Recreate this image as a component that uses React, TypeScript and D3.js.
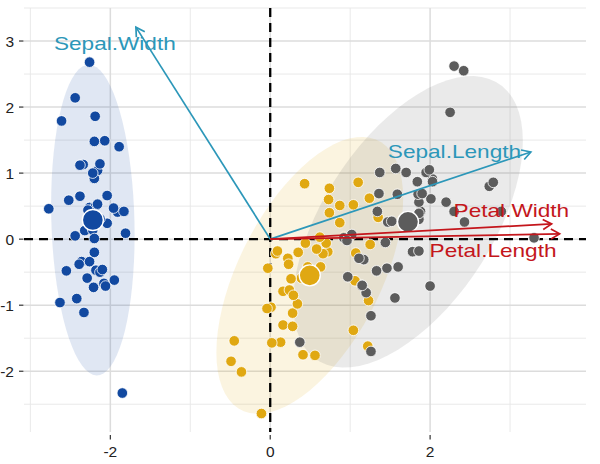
import React from "react";
import * as d3 from "d3";

// PCA scores (Dim1, Dim2) read for each species
const setosaX = [-2.26,-2.08,-2.36,-2.29,-2.38,-2.07,-2.44,-2.23,-2.33,-2.18,-2.16,-2.32,-2.21,-2.63,-2.19,-2.26,-2.20,-2.19,-1.89,-2.34,-1.91,-2.20,-2.77,-1.81,-2.22,-1.95,-2.04,-2.16,-2.13,-2.26,-2.13,-1.83,-2.61,-2.44,-2.10,-2.20,-2.04,-2.52,-2.42,-2.16,-2.28,-1.85,-2.55,-1.96,-2.13,-2.06,-2.38,-2.39,-2.22,-2.20];
const setosaY = [0.48,-0.67,-0.34,-0.59,0.65,1.49,0.05,0.22,-1.11,-0.47,1.04,0.13,-0.73,-0.96,1.86,2.68,1.48,0.49,1.40,1.13,0.41,0.92,0.46,0.09,0.14,-0.62,0.24,0.53,0.31,-0.34,-0.50,0.42,1.79,2.14,-0.46,-0.20,0.66,0.59,-0.90,0.27,0.44,-2.33,-0.48,0.47,1.14,-0.71,1.12,-0.38,1.00,0.01];
const versicolorX = [1.10,0.73,1.24,0.41,1.07,0.39,0.74,-0.49,0.92,0.01,-0.11,0.44,0.56,0.72,-0.03,0.87,0.35,0.16,1.22,0.16,0.74,0.47,1.23,0.63,0.70,0.87,1.25,1.35,0.66,-0.04,0.13,0.02,0.24,1.06,0.22,0.43,1.04,1.04,0.07,0.28,0.28,0.62,0.34,-0.36,0.29,0.09,0.23,0.58,-0.45,0.26];
const versicolorY = [0.86,0.60,0.62,-1.75,-0.21,-0.59,0.77,-1.85,0.03,-1.03,-2.64,-0.06,-1.76,-0.19,-0.44,0.51,-0.20,-0.79,-1.62,-1.30,0.40,-0.42,-0.93,-0.42,-0.06,0.25,-0.08,0.33,-0.22,-1.05,-1.56,-1.57,-0.77,-0.63,-0.29,0.84,0.52,-1.38,-0.22,-1.32,-1.12,0.03,-0.98,-2.01,-0.85,-0.18,-0.38,-0.15,-1.54,-0.60];
const virginicaX = [1.84,1.15,2.20,1.44,1.86,2.74,0.37,2.30,2.00,2.25,1.36,1.60,1.88,1.26,1.46,1.59,1.47,2.42,3.30,1.26,2.03,0.97,2.89,1.33,1.70,1.95,1.17,1.02,1.78,1.86,2.43,2.30,1.86,1.11,1.20,2.79,1.57,1.34,0.92,1.85,2.01,1.90,1.15,2.03,1.99,1.86,1.56,1.52,1.37,0.96];
const virginicaY = [0.87,-0.70,0.56,-0.05,0.30,0.80,-1.56,0.42,-0.71,1.92,0.69,-0.42,0.42,-1.16,-0.44,0.68,0.26,2.55,0.02,-1.70,0.91,-0.57,0.42,-0.48,1.01,1.01,-0.31,0.07,-0.19,0.56,0.26,2.62,-0.18,-0.29,-0.81,0.86,1.07,0.42,0.02,0.68,0.61,0.69,-0.70,0.87,1.05,0.39,-0.89,0.27,1.01,-0.02];

const speciesNames = ["setosa", "versicolor", "virginica"];

// Variable arrows (scaled coordinates)
const varNames = ["Sepal.Length", "Sepal.Width", "Petal.Length", "Petal.Width"];
const varX = [3.26, -1.68, 3.62, 3.52];
const varY = [1.32, 3.21, 0.08, 0.23];
const varGroup = ["sepal", "sepal", "petal", "petal"];

const xTicks = [-2, 0, 2];
const yTicks = [-2, -1, 0, 1, 2, 3];
const xMinor = [-3, -1, 1, 3];
const yMinor = [-2.5, -1.5, -0.5, 0.5, 1.5, 2.5, 3.5];

// styles
const speciesColors: Record<string, string> = {
  setosa: "#1249A0",
  versicolor: "#E0A812",
  virginica: "#5C5C5C",
};
const groupColors: Record<string, string> = { sepal: "#2C97B9", petal: "#C4161C" };
const labelOffsets = [
  [-143, 6],
  [-82, 23],
  [-130, 23],
  [-98, -7],
];

const W = 600;
const H = 464;
const L = 24, R = 586, T = 8, B = 432;
const x = d3.scaleLinear().domain([-3.08, 3.95]).range([L, R]);
const y = d3.scaleLinear().domain([-2.92, 3.5]).range([B, T]);

const groups = [
  { name: speciesNames[0], xs: setosaX, ys: setosaY },
  { name: speciesNames[1], xs: versicolorX, ys: versicolorY },
  { name: speciesNames[2], xs: virginicaX, ys: virginicaY },
];

function ellipsePath(xs: number[], ys: number[], level = 0.95) {
  const n = xs.length;
  const mx = d3.mean(xs)!;
  const my = d3.mean(ys)!;
  let sxx = 0, syy = 0, sxy = 0;
  for (let i = 0; i < n; i++) {
    sxx += (xs[i] - mx) ** 2;
    syy += (ys[i] - my) ** 2;
    sxy += (xs[i] - mx) * (ys[i] - my);
  }
  sxx /= n - 1; syy /= n - 1; sxy /= n - 1;
  const r11 = Math.sqrt(sxx);
  const r12 = sxy / r11;
  const r22 = Math.sqrt(syy - r12 * r12);
  const d = n - 1;
  const qf = (d / 2) * (Math.pow(1 - level, -2 / d) - 1);
  const radius = Math.sqrt(2 * qf);
  const pts: [number, number][] = [];
  const seg = 72;
  for (let k = 0; k < seg; k++) {
    const t = (k / seg) * 2 * Math.PI;
    const c = Math.cos(t), s = Math.sin(t);
    pts.push([x(mx + radius * c * r11), y(my + radius * (c * r12 + s * r22))]);
  }
  return d3.line().curve(d3.curveLinearClosed)(pts) || "";
}

function arrowHead(x0: number, y0: number, x1: number, y1: number, len = 10) {
  const a = Math.atan2(y1 - y0, x1 - x0);
  const da = (30 * Math.PI) / 180;
  const p1 = [x1 - len * Math.cos(a - da), y1 - len * Math.sin(a - da)];
  const p2 = [x1 - len * Math.cos(a + da), y1 - len * Math.sin(a + da)];
  return `M${p1[0]},${p1[1]}L${x1},${y1}L${p2[0]},${p2[1]}`;
}

export default function App() {
  const font = "'Liberation Sans', Arial, Helvetica, sans-serif";
  return (
    <svg width={W} height={H} style={{ position: "absolute", left: 0, top: 0, background: "#fff" }}>
      {/* grid */}
      {xMinor.map((v) => (
        <line key={"xm" + v} x1={x(v)} x2={x(v)} y1={T} y2={B} stroke="#E6E6E6" strokeWidth={0.9} />
      ))}
      {yMinor.map((v) => (
        <line key={"ym" + v} x1={L} x2={R} y1={y(v)} y2={y(v)} stroke="#E6E6E6" strokeWidth={0.9} />
      ))}
      {xTicks.map((v) => (
        <line key={"xg" + v} x1={x(v)} x2={x(v)} y1={T} y2={B} stroke="#DCDCDC" strokeWidth={1.5} />
      ))}
      {yTicks.map((v) => (
        <line key={"yg" + v} x1={L} x2={R} y1={y(v)} y2={y(v)} stroke="#DCDCDC" strokeWidth={1.5} />
      ))}

      {/* ellipses */}
      {groups.map((g) => (
        <path key={"el" + g.name} d={ellipsePath(g.xs, g.ys)} fill={speciesColors[g.name]} fillOpacity={0.13} stroke="none" />
      ))}

      {/* reference lines */}
      <line x1={L} x2={R} y1={y(0)} y2={y(0)} stroke="#000" strokeWidth={2.3} strokeDasharray="9,6" />
      <line x1={x(0)} x2={x(0)} y1={T} y2={B} stroke="#000" strokeWidth={2.3} strokeDasharray="9,6" />

      {/* points */}
      {groups.map((g) =>
        g.xs.map((vx, i) => (
          <circle key={g.name + i} cx={x(vx)} cy={y(g.ys[i])} r={5.3} fill={speciesColors[g.name]} stroke="#fff" strokeWidth={0.8} />
        ))
      )}

      {/* group means */}
      {groups.map((g) => (
        <circle key={"m" + g.name} cx={x(d3.mean(g.xs)!)} cy={y(d3.mean(g.ys)!)} r={10.5} fill={speciesColors[g.name]} stroke="#fff" strokeWidth={1.4} />
      ))}

      {/* variable arrows */}
      {varNames.map((nm, i) => {
        const x0 = x(0), y0 = y(0), x1 = x(varX[i]), y1 = y(varY[i]);
        const col = groupColors[varGroup[i]];
        return (
          <g key={"a" + nm}>
            <line x1={x0} y1={y0} x2={x1} y2={y1} stroke={col} strokeWidth={1.7} />
            <path d={arrowHead(x0, y0, x1, y1)} fill="none" stroke={col} strokeWidth={1.7} />
          </g>
        );
      })}
      {varNames.map((nm, i) => {
        const col = groupColors[varGroup[i]];
        const tx = x(varX[i]) + labelOffsets[i][0];
        const ty = y(varY[i]) + labelOffsets[i][1];
        return (
          <text key={"t" + nm} transform={`translate(${tx},${ty}) scale(1.19,1)`} fontFamily={font} fontSize={19} fill={col}>
            {nm}
          </text>
        );
      })}

      {/* axes ticks */}
      {xTicks.map((v) => (
        <g key={"xt" + v}>
          <line x1={x(v)} x2={x(v)} y1={435} y2={439.5} stroke="#333" strokeWidth={1.2} />
          <text x={x(v)} y={457} textAnchor="middle" fontFamily={font} fontSize={15.5} fill="#222">
            {v}
          </text>
        </g>
      ))}
      {yTicks.map((v) => (
        <g key={"yt" + v}>
          <line x1={19} x2={23.5} y1={y(v)} y2={y(v)} stroke="#333" strokeWidth={1.2} />
          <text x={14} y={y(v)} dy="0.36em" textAnchor="end" fontFamily={font} fontSize={15.5} fill="#222">
            {v}
          </text>
        </g>
      ))}
    </svg>
  );
}
